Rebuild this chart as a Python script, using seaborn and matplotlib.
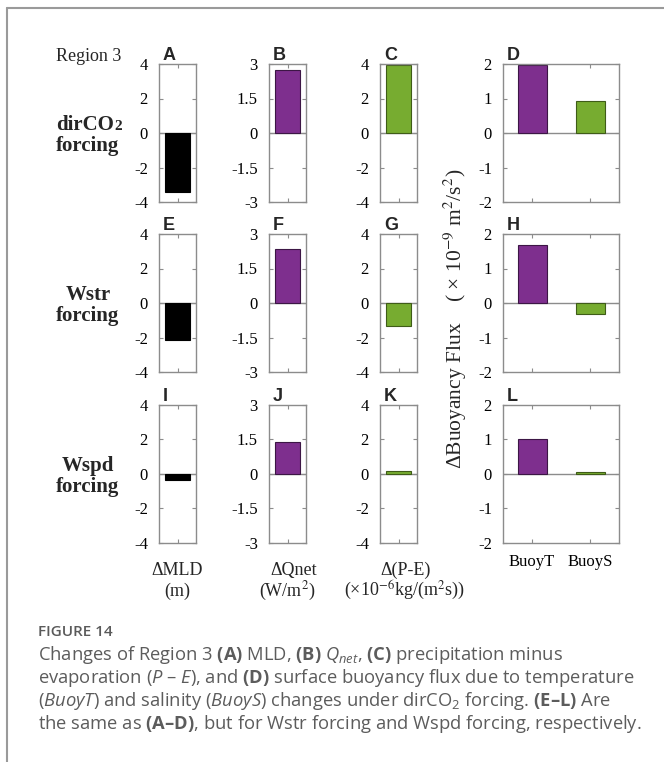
import matplotlib
matplotlib.use("Agg")
import matplotlib.pyplot as plt
import seaborn as sns
import pandas as pd
from matplotlib.lines import Line2D

sns.set_theme(style="white")
plt.rcParams['font.family'] = ['Liberation Serif', 'DejaVu Serif']
plt.rcParams['axes.unicode_minus'] = False
plt.rcParams['mathtext.fontset'] = 'custom'
plt.rcParams['mathtext.rm'] = 'Open Sans'
plt.rcParams['mathtext.it'] = 'Open Sans:italic'
plt.rcParams['mathtext.bf'] = 'Open Sans:bold'

# ---------------- data ----------------
row_names = ["dirCO", "Wstr", "Wspd"]
mld = [-3.42, -2.13, -0.35]
qnet = [2.74, 2.36, 1.37]
pme = [3.92, -1.35, 0.19]
buoy_cats = ["BuoyT", "BuoyS"]
buoyT = [1.96, 1.68, 1.00]
buoyS = [0.94, -0.33, 0.05]
letters = [["A", "B", "C", "D"], ["E", "F", "G", "H"], ["I", "J", "K", "L"]]
ticks_4 = [-4, -2, 0, 2, 4]
ticks_3 = [-3, -1.5, 0, 1.5, 3]
ticks_2 = [-2, -1, 0, 1, 2]

BLACK = "#000000"
PURPLE = "#7E2F8E"
GREEN = "#77AC30"
EDGE = {BLACK: "#000000", PURPLE: "#3c1645", GREEN: "#3f5c18"}
GRAY = "#8c8c8c"

W, H = 664, 762
fig = plt.figure(figsize=(W / 100, H / 100), dpi=100)

col_x = [159, 269, 380, 503]
col_w = [37, 37, 37, 116]
row_top = [64, 234, 405]
AX_H = 138


def rect(x, top, w, h):
    return [x / W, 1 - (top + h) / H, w / W, h / H]


def fmt(v):
    return "%g" % v


def style_axis(ax, yt):
    ax.set_ylim(yt[0], yt[-1])
    ax.set_yticks(yt)
    ax.set_yticklabels([fmt(v) for v in yt])
    ax.set_xlabel("")
    ax.set_ylabel("")
    for sp in ax.spines.values():
        sp.set_color(GRAY)
        sp.set_linewidth(1.0)
        sp.set_visible(True)
    ax.tick_params(axis='both', direction='in', length=3, width=0.8,
                   color=GRAY, top=True, right=True, bottom=True, left=True,
                   labelsize=12, pad=8, labelcolor="black")
    ax.axhline(0, color=GRAY, lw=1.0, zorder=0.5)
    ax.set_facecolor("white")


for r in range(3):
    singles = [(mld[r], BLACK, ticks_4), (qnet[r], PURPLE, ticks_3), (pme[r], GREEN, ticks_4)]
    for c, (val, colr, yt) in enumerate(singles):
        ax = fig.add_axes(rect(col_x[c], row_top[r], col_w[c], AX_H))
        df = pd.DataFrame({"cat": [letters[r][c]], "val": [val]})
        sns.barplot(data=df, x="cat", y="val", color=colr, saturation=1,
                    width=0.8, ax=ax, edgecolor=EDGE[colr], linewidth=0.8,
                    errorbar=None)
        ax.set_xlim(-0.6, 0.6)
        ax.set_xticks([0])
        ax.set_xticklabels([])
        style_axis(ax, yt)
    # buoyancy panel
    ax = fig.add_axes(rect(col_x[3], row_top[r], col_w[3], AX_H))
    df = pd.DataFrame({"cat": buoy_cats, "val": [buoyT[r], buoyS[r]]})
    sns.barplot(data=df, x="cat", y="val", hue="cat", palette=[PURPLE, GREEN],
                saturation=1, width=0.5, ax=ax, legend=False, errorbar=None,
                linewidth=0.8)
    for p, colr in zip(ax.patches, [PURPLE, GREEN]):
        p.set_edgecolor(EDGE[colr])
    ax.set_xlim(-0.5, 1.5)
    ax.set_xticks([0, 1])
    if r == 2:
        ax.set_xticklabels(buoy_cats, fontsize=12.5)
    else:
        ax.set_xticklabels([])
    style_axis(ax, ticks_2)

    # panel letters
    for c in range(4):
        fig.text((col_x[c] + 4) / W, 1 - (row_top[r] - 4) / H, letters[r][c],
                 family="Liberation Sans", fontweight="bold", fontsize=13,
                 ha="left", va="baseline")

    # row labels
    cy = row_top[r] + AX_H / 2
    if r == 0:
        fig.text(114 / W, 1 - (cy - 3) / H, row_names[r], fontsize=15,
                 fontweight="bold", ha="right", va="baseline")
        fig.text(114 / W, 1 - (cy - 3) / H, "2", fontsize=11,
                 fontweight="bold", ha="left", va="baseline")
    else:
        fig.text(88 / W, 1 - (cy - 3) / H, row_names[r], fontsize=15,
                 fontweight="bold", ha="center", va="baseline")
    fig.text(88 / W, 1 - (cy + 18) / H, "forcing", fontsize=15,
             fontweight="bold", ha="center", va="baseline")

fig.text(56 / W, 1 - 61 / H, "Region 3", fontsize=13, ha="left", va="baseline")

# bottom column labels
fig.text(177 / W, 1 - 575 / H, "ΔMLD", fontsize=13, ha="center", va="baseline")
fig.text(177 / W, 1 - 596 / H, "(m)", fontsize=13, ha="center", va="baseline")
fig.text(294 / W, 1 - 575 / H, "ΔQnet", fontsize=13, ha="center", va="baseline")
fig.text(287 / W, 1 - 596 / H, "(W/m$^{2}$)", fontsize=13, ha="center",
         va="baseline", math_fontfamily="stix")
fig.text(406 / W, 1 - 575 / H, "Δ(P-E)", fontsize=13, ha="center", va="baseline")
fig.text(404 / W, 1 - 596 / H, "(×10$^{-6}$kg/(m$^{2}$s))", fontsize=13,
         ha="center", va="baseline", math_fontfamily="stix")

# buoyancy y label
fig.text(455 / W, 1 - 319 / H, "ΔBuoyancy Flux    ( × 10$^{-9}$ m$^{2}$/s$^{2}$)",
         fontsize=15.5, rotation=90, ha="center", va="center",
         math_fontfamily="stix")

# frame lines
fig.add_artist(Line2D([7 / W, 7 / W], [0, 1 - 8 / H], transform=fig.transFigure,
                      color="#9a9a9a", lw=1.5))
fig.add_artist(Line2D([7 / W, 1], [1 - 8 / H, 1 - 8 / H], transform=fig.transFigure,
                      color="#9a9a9a", lw=1.5))

# caption
CAP = "#5c5c5c"
fig.text(38 / W, 1 - 636 / H, "FIGURE 14", family="Open Sans", fontweight="semibold",
         fontsize=11, color="#5a5a5a", ha="left", va="baseline")
cap_lines = [
    r"Changes of Region 3 $\mathbf{(A)}$ MLD, $\mathbf{(B)}$ $Q_{net}$, $\mathbf{(C)}$ precipitation minus",
    r"evaporation ($P$ – $E$), and $\mathbf{(D)}$ surface buoyancy flux due to temperature",
    r"($BuoyT$) and salinity ($BuoyS$) changes under dirCO$_{2}$ forcing. $\mathbf{(E–L)}$ Are",
    r"the same as $\mathbf{(A–D)}$, but for Wstr forcing and Wspd forcing, respectively.",
]
for i, line in enumerate(cap_lines):
    fig.text(38 / W, 1 - (660 + 23 * i) / H, line, family="Open Sans", fontsize=13.2,
             color=CAP, ha="left", va="baseline")

fig.savefig("out.png", dpi=100, facecolor="white")
